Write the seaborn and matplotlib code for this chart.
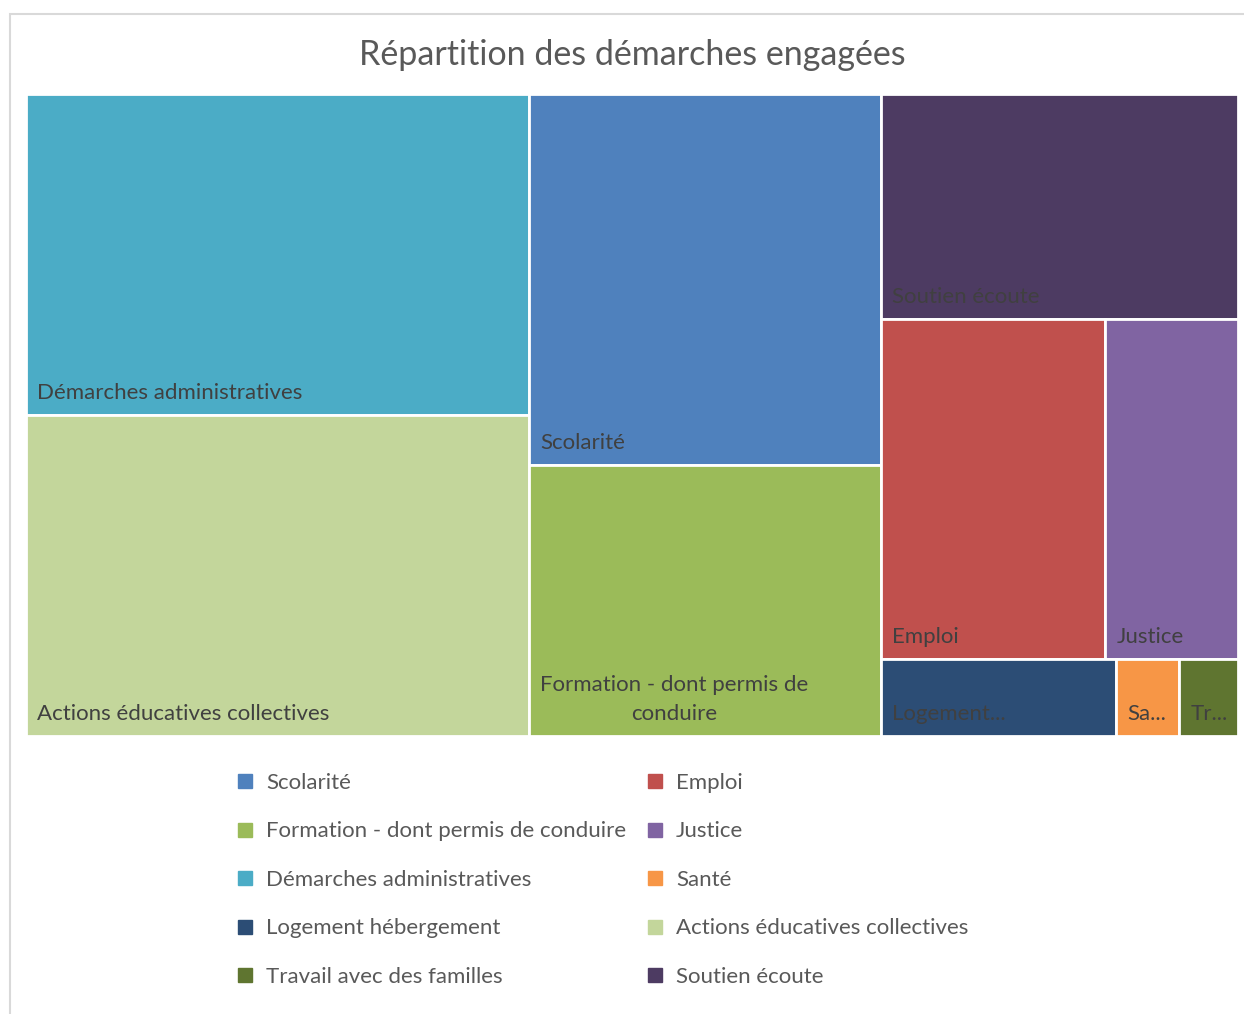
import matplotlib
matplotlib.use("Agg")
import matplotlib.pyplot as plt
import matplotlib.patches as mpatches
from matplotlib.lines import Line2D
import seaborn as sns

# data (tile areas)
categories = ["Scolarité", "Formation - dont permis de conduire", "Démarches administratives",
              "Logement hébergement", "Travail avec des familles", "Emploi", "Justice", "Santé",
              "Actions éducatives collectives", "Soutien écoute"]
values = [130, 95, 161, 18, 4.5, 76, 45, 4.8, 161, 80]
colors = ["#4F81BD", "#9BBB59", "#4BACC6", "#2C4D75", "#5F7530",
          "#C0504D", "#8064A2", "#F79646", "#C3D69B", "#4D3B62"]

# tile grouping of the treemap (columns -> rows -> cells)
groups = [
    ["Démarches administratives", "Actions éducatives collectives"],
    ["Scolarité", "Formation - dont permis de conduire"],
    ["Soutien écoute", ["Emploi", "Justice"],
     ["Logement hébergement", "Santé", "Travail avec des familles"]],
]

val = dict(zip(categories, values))
col = dict(zip(categories, colors))


def total(node):
    if isinstance(node, str):
        return val[node]
    return sum(total(n) for n in node)


def layout(node, x, y, w, h, horizontal, out):
    if isinstance(node, str):
        out.append((node, x, y, w, h))
        return
    s = total(node)
    pos = 0.0
    for child in node:
        frac = total(child) / s
        if horizontal:
            layout(child, x + pos * w, y, w * frac, h, not horizontal, out)
        else:
            layout(child, x, y + pos * h, w, h * frac, not horizontal, out)
        pos += frac


tiles = []
layout(groups, 0.0, 0.0, 1.0, 1.0, True, tiles)

sns.set_theme(style="white")
plt.rcParams["font.family"] = ["Lato", "DejaVu Sans"]

W, H = 1244, 1014
fig = plt.figure(figsize=(W / 100, H / 100), dpi=100)
ax = fig.add_axes([26 / W, 1 - 736 / H, 1212 / W, 642 / H])
ax.set_xlim(0, 1)
ax.set_ylim(1, 0)
ax.axis("off")

for name, x, y, w, h in tiles:
    ax.bar(x, h, width=w, bottom=y, align="edge", color=col[name],
           edgecolor="white", linewidth=2)

fig.canvas.draw()
renderer = fig.canvas.get_renderer()
txt_kw = dict(fontsize=16, color="#404040")
pad_x = 11 / 1212
pad_y = 12 / 642


def fits(t, avail):
    return t.get_window_extent(renderer).width <= avail


for name, x, y, w, h in tiles:
    avail = w * 1212 - 14
    t = ax.text(x + pad_x, y + h - pad_y, name, ha="left", va="bottom", **txt_kw)
    if fits(t, avail):
        continue
    words = name.split(" ")
    done = False
    if h * 642 > 90:
        t.set_multialignment("center")
        t.set_linespacing(1.55)
        for k in range(len(words) - 1, 0, -1):
            t.set_text(" ".join(words[:k]) + "\n" + " ".join(words[k:]))
            if fits(t, avail):
                done = True
                break
    if not done:
        t.set_linespacing(1.2)
        for k in range(len(words) - 1, 0, -1):
            t.set_text(" ".join(words[:k]) + "...")
            if fits(t, avail):
                done = True
                break
    if not done:
        for n in range(len(name) - 1, 0, -1):
            t.set_text(name[:n].rstrip() + "...")
            if fits(t, avail):
                break

fig.text(632 / W, 1 - 55 / H, "Répartition des démarches engagées", ha="center", va="center",
         fontsize=24.5, color="#595959")

handles = [Line2D([], [], marker="s", linestyle="none", markersize=10,
                  markerfacecolor=c, markeredgecolor=c) for c in colors]
leg = fig.legend(handles, categories, ncol=2, loc="upper left",
                 bbox_to_anchor=(237 / W, 1 - 773 / H), frameon=False,
                 fontsize=16, labelcolor="#595959", handlelength=0.7,
                 handletextpad=0.6, labelspacing=1.28, columnspacing=0.95,
                 borderaxespad=0, borderpad=0)

fig.add_artist(mpatches.Rectangle((10 / W, -0.05), 1.1, 1 - 14 / H + 0.05,
                                  transform=fig.transFigure, fill=False,
                                  edgecolor="#D9D9D9", linewidth=1.5))

fig.savefig("out.png", dpi=100)
